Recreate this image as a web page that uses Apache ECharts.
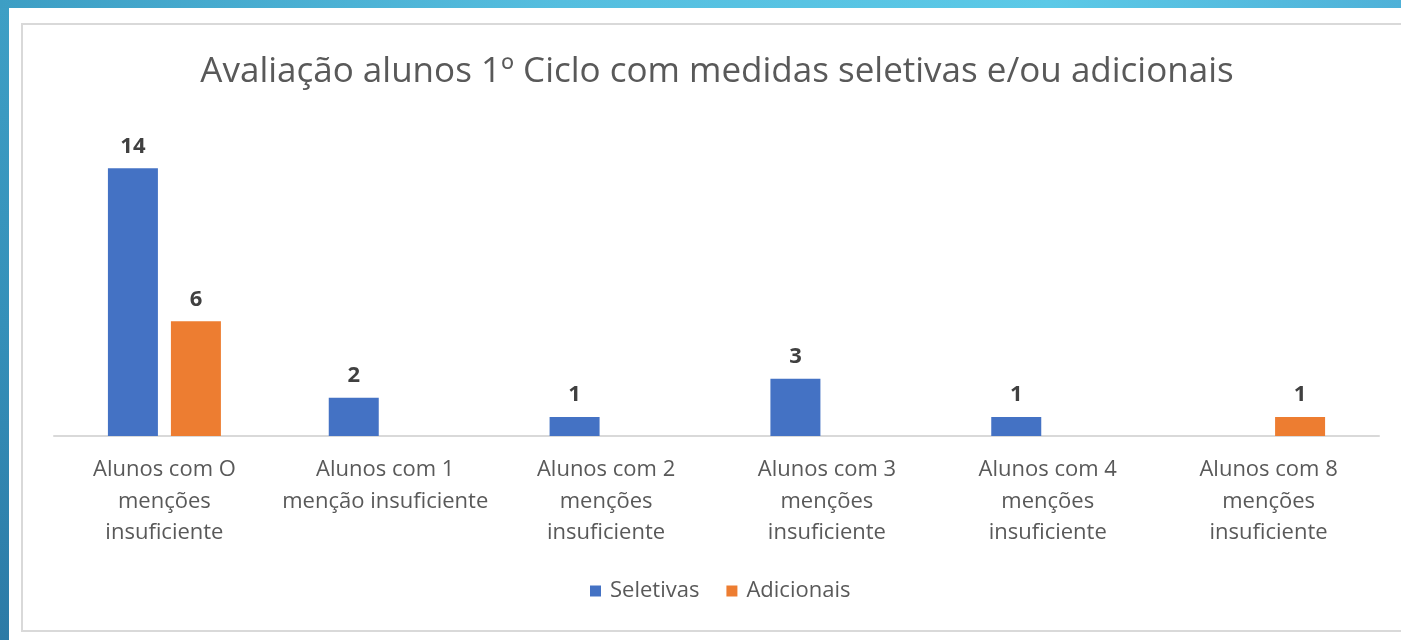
<!DOCTYPE html>
<html>
<head>
<meta charset="utf-8">
<script src="https://cdn.jsdelivr.net/npm/echarts@6/dist/echarts.min.js"></script>
<style>
html,body{margin:0;padding:0;width:1401px;height:640px;overflow:hidden;
background:linear-gradient(90deg,#3d9ec4 0%,#55bedf 40%,#5bc9e7 75%,#4fb1d8 100%);}
#frame{position:absolute;left:0;top:8px;width:9px;height:632px;
background:linear-gradient(180deg,#3e9fc5 0%,#3590b9 50%,#2c7aa6 100%);}
#chart{position:absolute;left:0;top:0;width:1401px;height:640px;}
</style>
</head>
<body>
<div id="frame"></div>
<div id="chart"></div>
<script>
const titleText = 'Avaliação alunos 1º Ciclo com medidas seletivas e/ou adicionais';
const categories = [
  'Alunos com O\nmenções\ninsuficiente',
  'Alunos com 1\nmenção insuficiente',
  'Alunos com 2\nmenções\ninsuficiente',
  'Alunos com 3\nmenções\ninsuficiente',
  'Alunos com 4\nmenções\ninsuficiente',
  'Alunos com 8\nmenções\ninsuficiente'
];
const seletivas = [14, 2, 1, 3, 1, '-'];
const adicionais = [6, '-', '-', '-', '-', 1];
const seriesNames = ['Seletivas', 'Adicionais'];

const FONT = 'Open Sans';
const chart = echarts.init(document.getElementById('chart'), null, {renderer: 'canvas'});
const labelCfg = {
  show: true, position: 'top', distance: 11,
  color: '#404040', fontWeight: 'bold', fontSize: 22, fontFamily: FONT
};
chart.setOption({
  animation: false,
  backgroundColor: 'transparent',
  graphic: [
    {type: 'rect', z: -10, shape: {x: 9, y: 8, width: 1392, height: 632}, style: {fill: '#ffffff'}},
    {type: 'rect', z: -9, shape: {x: 22, y: 24, width: 1390, height: 607}, style: {fill: 'none', stroke: '#d9d9d9', lineWidth: 2}}
  ],
  title: {
    text: titleText,
    left: 712, top: 50, textAlign: 'center',
    textStyle: {fontFamily: FONT, fontSize: 35, fontWeight: 'normal', color: '#595959'}
  },
  legend: {
    data: seriesNames,
    left: 585, top: 575,
    itemWidth: 11, itemHeight: 11, itemGap: 27,
    icon: 'rect',
    textStyle: {fontFamily: FONT, fontSize: 22, color: '#595959', padding: [0, 0, 0, 4]}
  },
  grid: {left: 54, right: 22, top: 130, bottom: 204, containLabel: false},
  xAxis: {
    type: 'category',
    data: categories,
    axisLine: {lineStyle: {color: '#d9d9d9', width: 2}},
    axisTick: {show: false},
    axisLabel: {
      interval: 0, margin: 18, lineHeight: 31.5,
      fontFamily: FONT, fontSize: 22, color: '#595959'
    }
  },
  yAxis: {
    type: 'value', min: 0, max: 16,
    show: false, splitLine: {show: false}
  },
  series: [
    {name: seriesNames[0], type: 'bar', data: seletivas, barWidth: 50, barGap: '26%',
     itemStyle: {color: '#4472c4'}, label: labelCfg},
    {name: seriesNames[1], type: 'bar', data: adicionais, barWidth: 50, barGap: '26%',
     itemStyle: {color: '#ed7d31'}, label: labelCfg}
  ]
});
</script>
</body>
</html>
